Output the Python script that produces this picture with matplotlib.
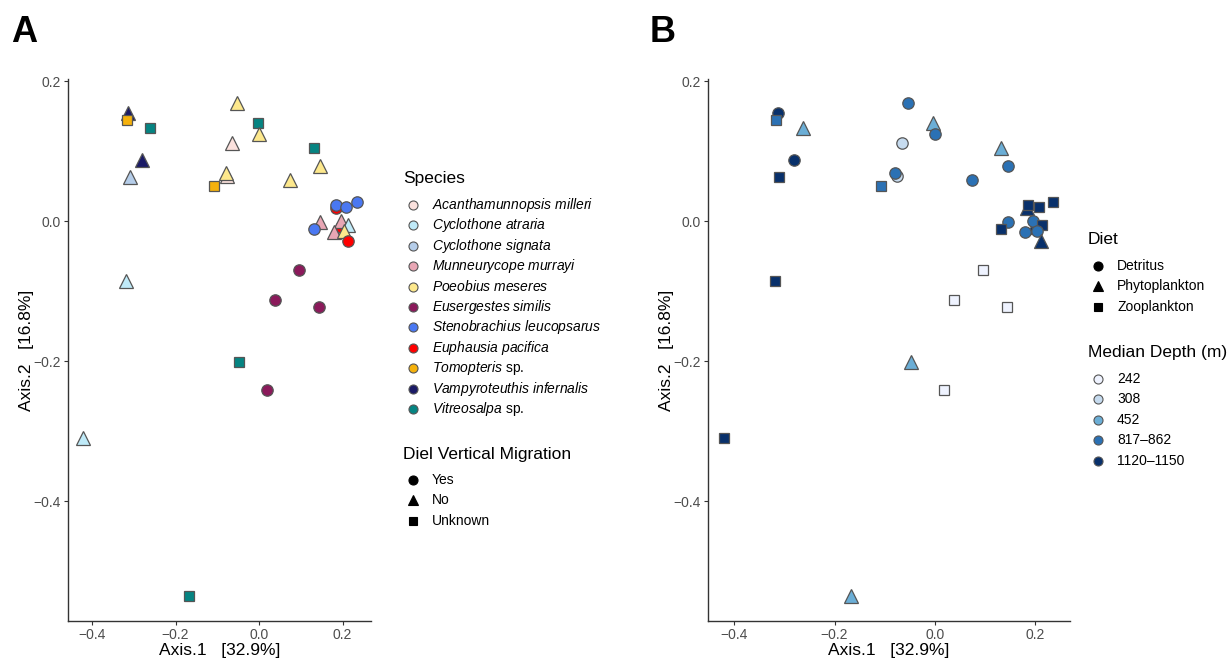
import matplotlib
matplotlib.use("Agg")
import matplotlib.pyplot as plt
from matplotlib.ticker import FuncFormatter

plt.rcParams['font.family'] = ['Liberation Sans', 'DejaVu Sans']
plt.rcParams['mathtext.fontset'] = 'custom'
plt.rcParams['mathtext.it'] = 'Liberation Sans:italic'
plt.rcParams['mathtext.rm'] = 'Liberation Sans'

# ---------------- data ----------------
species_names = ["Acanthamunnopsis milleri", "Cyclothone atraria", "Cyclothone signata",
                 "Munneurycope murrayi", "Poeobius meseres", "Eusergestes similis",
                 "Stenobrachius leucopsarus", "Euphausia pacifica", "Tomopteris sp.",
                 "Vampyroteuthis infernalis", "Vitreosalpa sp."]
species_labels = [r"$\mathit{Acanthamunnopsis\ milleri}$", r"$\mathit{Cyclothone\ atraria}$",
                  r"$\mathit{Cyclothone\ signata}$", r"$\mathit{Munneurycope\ murrayi}$",
                  r"$\mathit{Poeobius\ meseres}$", r"$\mathit{Eusergestes\ similis}$",
                  r"$\mathit{Stenobrachius\ leucopsarus}$", r"$\mathit{Euphausia\ pacifica}$",
                  r"$\mathit{Tomopteris}$ sp.", r"$\mathit{Vampyroteuthis\ infernalis}$",
                  r"$\mathit{Vitreosalpa}$ sp."]
species_colors = ["#FBE1DD", "#BFEAF8", "#B5CDE9", "#E8A6B4", "#FDE88C", "#8B1A5B",
                  "#4A78F2", "#FF0000", "#F5B10C", "#1A1A66", "#058482"]
species_dvm = ["No", "No", "No", "No", "No", "Yes", "Yes", "Yes", "Unknown", "No", "Unknown"]
species_diet = ["Detritus", "Zooplankton", "Zooplankton", "Detritus", "Detritus", "Zooplankton",
                "Zooplankton", "Phytoplankton", "Zooplankton", "Detritus", "Phytoplankton"]
species_depth = ["308", "1120\u20131150", "1120\u20131150", "817\u2013862", "817\u2013862", "242",
                 "1120\u20131150", "1120\u20131150", "817\u2013862", "1120\u20131150", "452"]

dvm_levels = ["Yes", "No", "Unknown"]
diet_levels = ["Detritus", "Phytoplankton", "Zooplankton"]
depth_levels = ["242", "308", "452", "817\u2013862", "1120\u20131150"]
depth_colors = ["#EFF3FF", "#C6DBEF", "#6BAED6", "#2B71B4", "#08306B"]

# points (Axis.1, Axis.2, species)
point_species = ["Vampyroteuthis infernalis", "Tomopteris sp.", "Vitreosalpa sp.",
                 "Vampyroteuthis infernalis", "Cyclothone signata", "Poeobius meseres",
                 "Vitreosalpa sp.", "Poeobius meseres", "Acanthamunnopsis milleri",
                 "Vitreosalpa sp.", "Poeobius meseres", "Acanthamunnopsis milleri",
                 "Poeobius meseres", "Poeobius meseres", "Tomopteris sp.",
                 "Euphausia pacifica", "Stenobrachius leucopsarus", "Stenobrachius leucopsarus",
                 "Stenobrachius leucopsarus", "Munneurycope murrayi", "Stenobrachius leucopsarus",
                 "Euphausia pacifica", "Munneurycope murrayi", "Cyclothone atraria",
                 "Munneurycope murrayi", "Poeobius meseres", "Euphausia pacifica",
                 "Eusergestes similis", "Eusergestes similis", "Eusergestes similis",
                 "Eusergestes similis", "Cyclothone atraria", "Vitreosalpa sp.",
                 "Cyclothone atraria", "Vitreosalpa sp."]
axis1 = [-0.313, -0.316, -0.262, -0.281, -0.310, -0.053, -0.003, 0.000, -0.065,
         0.131, 0.146, -0.076, -0.080, 0.073, -0.108, 0.184, 0.185, 0.207,
         0.235, 0.145, 0.132, 0.197, 0.196, 0.214, 0.180, 0.203, 0.212,
         0.095, 0.037, 0.144, 0.018, -0.319, -0.047, -0.421, -0.167]
axis2 = [0.155, 0.145, 0.133, 0.087, 0.063, 0.169, 0.140, 0.124, 0.111,
         0.104, 0.079, 0.065, 0.069, 0.059, 0.050, 0.019, 0.023, 0.020,
         0.028, -0.001, -0.011, -0.009, 0.000, -0.006, -0.016, -0.014, -0.028,
         -0.070, -0.112, -0.123, -0.241, -0.085, -0.201, -0.309, -0.536]

xticks = [-0.4, -0.2, 0.0, 0.2]
yticks = [0.2, 0.0, -0.2, -0.4]
xlabel = "Axis.1   [32.9%]"
ylabel = "Axis.2   [16.8%]"

# ---------------- styling ----------------
W, H = 1231, 661
fig = plt.figure(figsize=(W / 100, H / 100), dpi=100)

shape_dvm = {"Yes": "o", "No": "^", "Unknown": "s"}
shape_diet = {"Detritus": "o", "Phytoplankton": "^", "Zooplankton": "s"}
msize = {"o": 8.2, "^": 9.6, "s": 7.8}
edge = "#555555"

fmt = FuncFormatter(lambda v, p: ("%.1f" % v).replace("-", "\u2212"))


def px_axes(l, r, t, b):
    return fig.add_axes([l / W, 1 - b / H, (r - l) / W, (b - t) / H])


def style_axes(ax, left, right):
    for s in ["top", "right"]:
        ax.spines[s].set_visible(False)
    for s in ["left", "bottom"]:
        ax.spines[s].set_color("#333333")
        ax.spines[s].set_linewidth(1.0)
    ax.set_xticks(xticks)
    ax.set_yticks(yticks)
    ax.xaxis.set_major_formatter(fmt)
    ax.yaxis.set_major_formatter(fmt)
    ax.tick_params(direction="out", length=3, width=0.8, color="#333333",
                   labelsize=10, labelcolor="#4D4D4D", pad=2)
    ax.set_ylim(-0.571, 0.203)
    fig.text(((left + right) / 2) / W, 1 - 651 / H, xlabel, fontsize=12.5,
             ha="center", va="center")
    fig.text((left - 42) / W, 1 - 350 / H, ylabel, fontsize=12.5, rotation=90,
             ha="center", va="center")


axA = px_axes(68, 371, 79, 621)
axA.set_xlim(-0.4575, 0.268)
style_axes(axA, 68, 371)
axB = px_axes(708, 1070, 79, 621)
axB.set_xlim(-0.452, 0.269)
style_axes(axB, 708, 1070)

for i, (xv, yv, sp) in enumerate(zip(axis1, axis2, point_species)):
    k = species_names.index(sp)
    mA = shape_dvm[species_dvm[k]]
    axA.plot(xv, yv, marker=mA, ms=msize[mA], mfc=species_colors[k], mec=edge,
             mew=0.9, ls="none", zorder=3 + i * 0.01, clip_on=False)
    mB = shape_diet[species_diet[k]]
    cB = depth_colors[depth_levels.index(species_depth[k])]
    axB.plot(xv, yv, marker=mB, ms=msize[mB], mfc=cB, mec=edge,
             mew=0.9, ls="none", zorder=3 + i * 0.01, clip_on=False)

# ---------------- panel letters ----------------
fig.text(11 / W, 1 - 42 / H, "A", fontsize=26, fontweight="bold", ha="left", va="baseline")
fig.text(650 / W, 1 - 42 / H, "B", fontsize=26, fontweight="bold", ha="left", va="baseline")

# ---------------- legends (pixel overlay) ----------------
lg = fig.add_axes([0, 0, 1, 1], zorder=-1)
lg.set_xlim(0, W)
lg.set_ylim(H, 0)
lg.axis("off")


def legend_block(x0, title, title_y, y0, step, labels, markers, fills, edges, sizes):
    lg.text(x0 - 10, title_y, title, fontsize=12.5, va="center", ha="left")
    for j, lab in enumerate(labels):
        yy = y0 + j * step
        lg.plot(x0, yy, marker=markers[j], ms=sizes[j], mfc=fills[j], mec=edges[j],
                mew=0.8, ls="none")
        lg.text(x0 + 19, yy, lab, fontsize=10, va="center", ha="left")


n = len(species_labels)
legend_block(413, "Species", 178, 205, 20.4, species_labels, ["o"] * n, species_colors,
             [edge] * n, [6.5] * n)
legend_block(413, "Diel Vertical Migration", 454, 480, 20.4, dvm_levels,
             [shape_dvm[d] for d in dvm_levels], ["black"] * 3, ["black"] * 3, [6.5, 7.5, 6])
legend_block(1098, "Diet", 240, 266, 20.4, diet_levels,
             [shape_diet[d] for d in diet_levels], ["black"] * 3, ["black"] * 3, [6.5, 7.5, 6])
legend_block(1098, "Median Depth (m)", 352, 379, 20.4, depth_levels, ["o"] * 5,
             depth_colors, [edge] * 5, [6.5] * 5)

fig.savefig("out.png", dpi=100)
